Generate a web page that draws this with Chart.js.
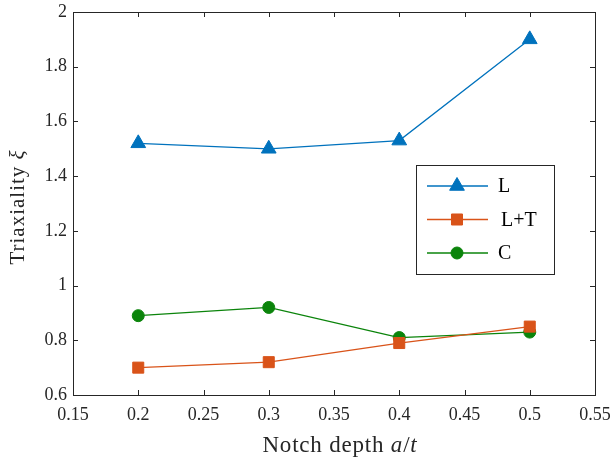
<!DOCTYPE html>
<html>
<head>
<meta charset="utf-8">
<script src="https://cdn.jsdelivr.net/npm/chart.js@4"></script>
<style>
  html, body { margin: 0; padding: 0; background: #fff; }
  #wrap { width: 612px; height: 461px; }
</style>
</head>
<body>
<div id="wrap"><canvas id="chart" width="612" height="461"></canvas></div>
<script>
// data
const notchDepth = [0.2, 0.3, 0.4, 0.5];
const seriesL  = [1.52, 1.50, 1.53, 1.90];
const seriesLT = [0.70, 0.72, 0.79, 0.85];
const seriesC  = [0.89, 0.92, 0.81, 0.83];
const seriesNames = ['L', 'L+T', 'C'];
const xTicks = [0.15, 0.2, 0.25, 0.3, 0.35, 0.4, 0.45, 0.5, 0.55];
const yTicks = [0.6, 0.8, 1, 1.2, 1.4, 1.6, 1.8, 2];

const FONT = '"Liberation Serif", "Times New Roman", serif';

function toPoints(ys) {
  return notchDepth.map((x, i) => ({ x: x, y: ys[i] }));
}

// MATLAB-ish box with inward ticks on all four sides, axis titles and legend
const boxPlugin = {
  id: 'box',
  afterDraw(chart) {
    const { ctx, chartArea: a, scales } = chart;
    ctx.save();
    ctx.strokeStyle = '#262626';
    ctx.lineWidth = 1;
    ctx.strokeRect(a.left + 0.5, a.top + 0.5, a.right - a.left, a.bottom - a.top);
    const len = 5;
    ctx.beginPath();
    xTicks.forEach(v => {
      const px = Math.round(scales.x.getPixelForValue(v)) + 0.5;
      ctx.moveTo(px, a.bottom); ctx.lineTo(px, a.bottom - len);
      ctx.moveTo(px, a.top); ctx.lineTo(px, a.top + len);
    });
    yTicks.forEach(v => {
      const py = Math.round(scales.y.getPixelForValue(v)) + 0.5;
      ctx.moveTo(a.left, py); ctx.lineTo(a.left + len, py);
      ctx.moveTo(a.right, py); ctx.lineTo(a.right - len, py);
    });
    ctx.stroke();

    // axis titles with italic symbols
    ctx.fillStyle = '#262626';
    ctx.textBaseline = 'alphabetic';
    const drawMixed = (parts, cx, cy, size, spacing) => {
      ctx.letterSpacing = spacing + 'px';
      let w = 0;
      parts.forEach(p => { ctx.font = p[1] + ' ' + size + 'px ' + FONT; w += ctx.measureText(p[0]).width; });
      let x = cx - w / 2;
      parts.forEach(p => {
        ctx.font = p[1] + ' ' + size + 'px ' + FONT;
        ctx.textAlign = 'left';
        ctx.fillText(p[0], x, cy);
        x += ctx.measureText(p[0]).width;
      });
      ctx.letterSpacing = '0px';
    };
    drawMixed([['Notch depth ', 'normal'], ['a', 'italic'], ['/', 'normal'], ['t', 'italic']], 340, 452, 23, 0.8);
    ctx.save();
    ctx.translate(24, 207);
    ctx.rotate(-Math.PI / 2);
    drawMixed([['Triaxiality ', 'normal'], ['\u03BE', 'italic']], 0, 0, 21, 1);
    ctx.restore();

    // legend box
    const lx = 416, ly = 165, lw = 138, lh = 109;
    ctx.fillStyle = '#fff';
    ctx.fillRect(lx, ly, lw, lh);
    ctx.strokeStyle = '#262626';
    ctx.lineWidth = 1;
    ctx.strokeRect(lx + 0.5, ly + 0.5, lw, lh);
    chart.data.datasets.forEach((ds, i) => {
      const y = 186 + i * 33.5;
      ctx.strokeStyle = ds.borderColor;
      ctx.lineWidth = 1.3;
      ctx.beginPath();
      ctx.moveTo(427, y); ctx.lineTo(488, y);
      ctx.stroke();
      ctx.fillStyle = ds.pointBackgroundColor;
      ctx.strokeStyle = ds.pointBorderColor;
      ctx.lineWidth = 1;
      Chart.helpers.drawPoint(ctx, {
        pointStyle: ds.pointStyle, radius: ds.pointRadius, rotation: 0, borderWidth: 1
      }, 457, y);
      ctx.font = '20px ' + FONT;
      ctx.fillStyle = '#000';
      ctx.textAlign = 'left';
      ctx.textBaseline = 'middle';
      ctx.fillText(ds.label, i === 1 ? 501 : 498, y + 1);
    });
    ctx.restore();
  }
};

const colL = '#0072BD', colLT = '#D95319', colC = '#0B840B';

new Chart(document.getElementById('chart'), {
  type: 'line',
  data: {
    datasets: [
      { label: seriesNames[0], data: toPoints(seriesL), borderColor: colL, backgroundColor: colL,
        pointBackgroundColor: colL, pointBorderColor: colL, pointStyle: 'triangle', pointRadius: 8.5 },
      { label: seriesNames[1], data: toPoints(seriesLT), borderColor: colLT, backgroundColor: colLT,
        pointBackgroundColor: colLT, pointBorderColor: colLT, pointStyle: 'rect', pointRadius: 7.8 },
      { label: seriesNames[2], data: toPoints(seriesC), borderColor: colC, backgroundColor: colC,
        pointBackgroundColor: colC, pointBorderColor: colC, pointStyle: 'circle', pointRadius: 6 }
    ].map(d => Object.assign(d, { borderWidth: 1.3, tension: 0, fill: false, pointBorderWidth: 1 }))
  },
  options: {
    responsive: false,
    animation: false,
    layout: { padding: { left: 0, right: 17, top: 12, bottom: 0 } },
    plugins: { legend: { display: false }, tooltip: { enabled: false } },
    scales: {
      x: {
        type: 'linear', min: 0.15, max: 0.55,
        afterBuildTicks: s => { s.ticks = xTicks.map(v => ({ value: v })); },
        afterFit: s => { s.height = 66; s.paddingLeft = 0; s.paddingRight = 0; },
        grid: { display: false, drawTicks: false },
        border: { display: false },
        ticks: { color: '#262626', font: { family: FONT, size: 18 }, padding: 9, maxRotation: 0,
                 callback: v => String(+v.toFixed(2)) }
      },
      y: {
        type: 'linear', min: 0.6, max: 2,
        afterBuildTicks: s => { s.ticks = yTicks.map(v => ({ value: v })); },
        afterFit: s => { s.width = 73; s.paddingTop = 0; s.paddingBottom = 0; },
        grid: { display: false, drawTicks: false },
        border: { display: false },
        ticks: { color: '#262626', font: { family: FONT, size: 18 }, padding: 6,
                 callback: v => String(+v.toFixed(1)) }
      }
    }
  },
  plugins: [boxPlugin]
});
</script>
</body>
</html>
